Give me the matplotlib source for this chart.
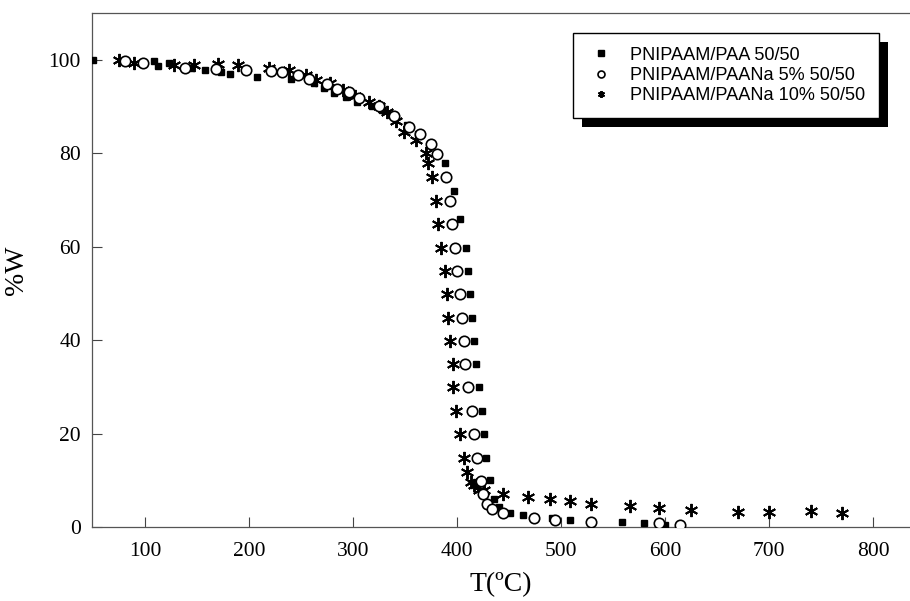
import matplotlib
matplotlib.use("Agg")
import matplotlib.pyplot as plt
from matplotlib.patches import Rectangle
from matplotlib.transforms import IdentityTransform

# PNIPAAM/PAA 50/50
paa_T = [50, 109, 112, 123, 144, 158, 173, 182, 208, 240, 262, 272, 282, 293, 304, 318, 328, 338,
         352, 362, 375, 388, 397, 403, 409, 411, 412, 414, 416, 418, 421, 424, 426, 428, 432, 436,
         440, 451, 463, 491, 509, 559, 580, 600]
paa_W = [100, 99.8, 98.7, 99.3, 98.2, 97.9, 97.4, 96.9, 96.4, 95.9, 95.0, 93.9, 92.9, 92.1, 91.0,
         90.0, 89.3, 88.2, 86.0, 84.0, 81.8, 77.9, 72.0, 65.9, 59.7, 54.7, 49.9, 44.8, 39.8, 34.8,
         29.9, 24.8, 19.8, 14.8, 10.0, 6.0, 4.2, 2.9, 2.6, 1.9, 1.5, 1.1, 0.8, 0.4]

# PNIPAAM/PAANa 5% 50/50
na5_T = [81, 98, 138, 168, 197, 221, 232, 247, 258, 275, 285, 296, 306, 325, 339, 354, 364, 375,
         381, 389, 393, 395, 398, 400, 403, 405, 407, 408, 411, 414, 416, 419, 423, 425, 429, 434,
         444, 474, 494, 529, 594, 614]
na5_W = [99.8, 99.3, 98.2, 98.0, 97.9, 97.6, 97.3, 96.8, 95.9, 94.8, 93.8, 93.0, 91.8, 90.0, 87.9,
         85.7, 84.0, 82.0, 79.8, 74.9, 69.8, 64.8, 59.7, 54.7, 49.9, 44.8, 39.8, 34.8, 29.9, 24.8,
         19.8, 14.8, 9.9, 7.1, 4.9, 3.8, 3.1, 2.0, 1.5, 1.1, 0.8, 0.4]

# PNIPAAM/PAANa 10% 50/50
na10_T = [75, 89, 128, 147, 170, 189, 219, 238, 255, 264, 278, 290, 302, 315, 325, 333, 341, 349,
          361, 370, 372, 376, 380, 382, 385, 388, 390, 391, 393, 396, 396, 399, 403, 407, 410, 413,
          416, 421, 426, 444, 468, 489, 509, 529, 566, 594, 625, 670, 700, 740, 770]
na10_W = [99.9, 99.3, 98.9, 98.9, 99.0, 98.9, 98.2, 97.7, 96.8, 95.7, 95.0, 93.5, 92.3, 90.9, 90.0,
          88.9, 86.8, 84.6, 82.9, 80.0, 77.9, 74.9, 69.8, 64.8, 59.7, 54.7, 49.9, 44.8, 39.8, 34.8,
          29.9, 24.8, 19.8, 14.8, 11.8, 9.7, 9.0, 8.0, 7.9, 7.1, 6.5, 5.9, 5.6, 5.0, 4.6, 4.1, 3.6,
          3.3, 3.3, 3.4, 2.9]

labels = ["PNIPAAM/PAA 50/50", "PNIPAAM/PAANa 5% 50/50", "PNIPAAM/PAANa 10% 50/50"]

serif = "Liberation Serif"

fig = plt.figure(figsize=(9.1, 6.01), dpi=100)
ax = fig.add_axes([92 / 910, 74 / 601, 818 / 910, 514 / 601])

ax.plot(paa_T, paa_W, ls="none", marker="s", ms=4.5, color="black", label=labels[0], zorder=3)
ax.plot(na5_T, na5_W, ls="none", marker="o", ms=7.5, mfc="white", mec="black", mew=1.2,
        label=labels[1], zorder=4)
ax.plot(na10_T, na10_W, ls="none", marker=(6, 2, 0), ms=9.5, color="black", mew=1.4,
        label=labels[2], zorder=3)

ax.set_xlim(49, 835.5)
ax.set_ylim(0, 110)
ax.set_xticks(range(100, 801, 100))
ax.set_yticks(range(0, 101, 20))
ax.tick_params(direction="in", length=7, width=0.8, color="#444", labelsize=15.5)
ax.tick_params(axis="x", pad=11)
ax.tick_params(axis="y", pad=8)
for lab in ax.get_xticklabels() + ax.get_yticklabels():
    lab.set_fontfamily(serif)

ax.spines["right"].set_visible(False)
for s in ["left", "top", "bottom"]:
    ax.spines[s].set_color("#555")
    ax.spines[s].set_linewidth(0.9)

ax.set_xlabel("T(ºC)", fontfamily=serif, fontsize=20, labelpad=8)
ax.set_ylabel("%W", fontfamily=serif, fontsize=20, labelpad=14)

leg = ax.legend(loc="upper left", bbox_to_anchor=(573 / 910, 1 - 33 / 601),
                bbox_transform=fig.transFigure, frameon=True, fancybox=False, framealpha=1,
                prop={"family": "Liberation Sans", "size": 13.1},
                handletextpad=0.8, borderpad=0.75, labelspacing=0.18, handlelength=1.6,
                borderaxespad=0)
leg.get_frame().set_edgecolor("black")
leg.get_frame().set_linewidth(1.0)
leg.get_frame().set_facecolor("white")
for h in leg.legend_handles:
    h.set_markersize(5)

fig.canvas.draw()
bb = leg.get_window_extent()
ax.add_patch(Rectangle((bb.x0 + 9, bb.y0 - 9), bb.width, bb.height, transform=IdentityTransform(),
                       facecolor="black", edgecolor="none", zorder=4.5, clip_on=False))

fig.savefig("out.png", dpi=100)
